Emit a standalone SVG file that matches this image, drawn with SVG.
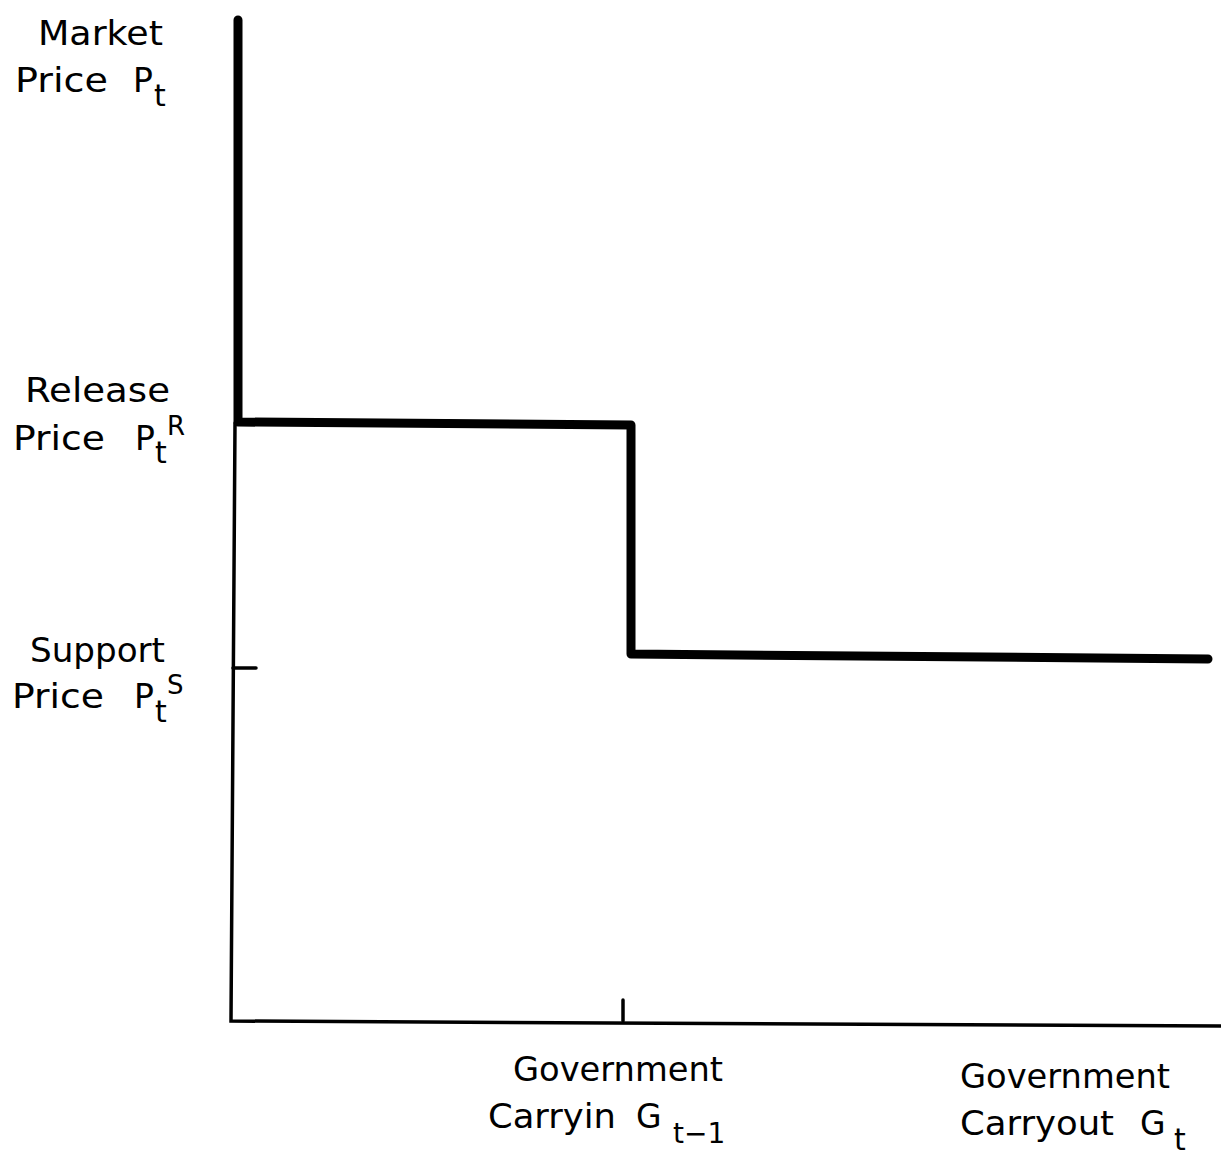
<svg xmlns="http://www.w3.org/2000/svg" width="1221" height="1163" viewBox="0 0 1221 1163">
<style>
text{font-family:"DejaVu Sans","Liberation Sans",sans-serif;font-size:33px;fill:#000}
.sub{font-size:30px}
.sup{font-size:26px}
.thick{fill:none;stroke:#000;stroke-width:9;stroke-linejoin:round;stroke-linecap:round}
.thin{fill:none;stroke:#000;stroke-width:3.5;stroke-linecap:round}
</style>
<rect width="1221" height="1163" fill="#fff"/>
<g id="connectors">
<path class="thin" d="M235,423 L231,1021 L1221,1026"/>
<path class="thin" d="M233,668 L256,668"/>
<path class="thin" d="M623,1000 L623,1021"/>
<path class="thick" d="M238,20 L238,422 L631,425 L631,654 L1208,659"/>
</g>
<g id="market-price">
<text x="38" y="45" textLength="125" lengthAdjust="spacingAndGlyphs">Market</text>
<text x="15" y="92" textLength="93" lengthAdjust="spacingAndGlyphs">Price</text>
<text x="133" y="92">P</text>
<text class="sub" x="154" y="106">t</text>
</g>
<g id="release-price">
<text x="25" y="402" textLength="145" lengthAdjust="spacingAndGlyphs">Release</text>
<text x="13" y="450" textLength="92" lengthAdjust="spacingAndGlyphs">Price</text>
<text x="135" y="450">P</text>
<text class="sup" x="167" y="435">R</text>
<text class="sub" x="155" y="463">t</text>
</g>
<g id="support-price">
<text x="30" y="662" textLength="135" lengthAdjust="spacingAndGlyphs">Support</text>
<text x="12" y="708" textLength="92" lengthAdjust="spacingAndGlyphs">Price</text>
<text x="134" y="708">P</text>
<text class="sup" x="167" y="694">S</text>
<text class="sub" x="155" y="722">t</text>
</g>
<g id="carryin">
<text x="513" y="1081" textLength="210" lengthAdjust="spacingAndGlyphs">Government</text>
<text x="488" y="1128" textLength="128" lengthAdjust="spacingAndGlyphs">Carryin</text>
<text x="636" y="1128">G</text>
<text class="sub" x="673" y="1143" style="font-size:28px">t−1</text>
</g>
<g id="carryout">
<text x="960" y="1088" textLength="210" lengthAdjust="spacingAndGlyphs">Government</text>
<text x="960" y="1135" textLength="154" lengthAdjust="spacingAndGlyphs">Carryout</text>
<text x="1140" y="1135">G</text>
<text class="sub" x="1174" y="1150">t</text>
</g>
</svg>
